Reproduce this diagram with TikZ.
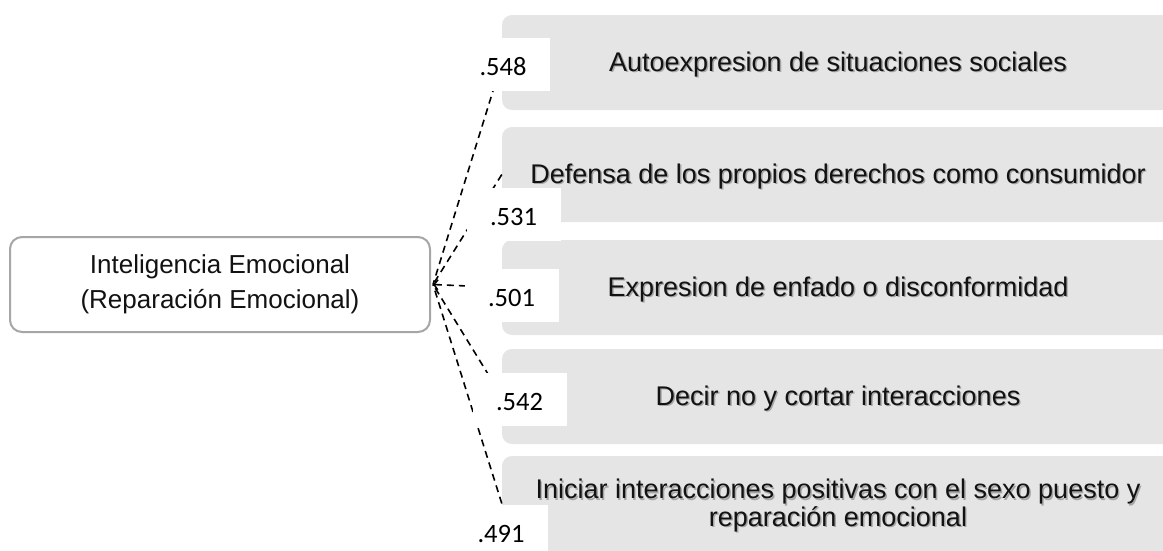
\documentclass[tikz,border=0pt]{standalone}
\usepackage{fontspec}
\setmainfont{Liberation Sans}
\newfontfamily\carlito{Carlito}
\usetikzlibrary{arrows.meta}
\definecolor{boxgray}{HTML}{E5E5E5}
\definecolor{rimgray}{HTML}{A6A6A6}
\definecolor{inktext}{HTML}{121212}
\newcommand\itemrow[3]{%
  \node[itembox] (#1) at (838,#2) {};
  \node[itemshadow] (#1s) at ([shift={(1.4,3.4)}]#1.center) {#3};
  \node[itemtext] (#1t) at ([shift={(0,2)}]#1.center) {#3};
}
\begin{document}
\begin{tikzpicture}[x=1pt,y=-1pt,
  itembox/.style={fill=boxgray, draw=none, rounded corners=10pt, minimum width=672pt, minimum height=95pt, inner sep=0pt},
  itemtext/.style={text=inktext, align=center, font=\fontsize{27}{27.5}\selectfont, inner sep=0pt},
  itemshadow/.style={text=black, opacity=0.28, align=center, font=\fontsize{27}{27.5}\selectfont, inner sep=0pt},
  centralbox/.style={draw=rimgray, line width=2pt, fill=white, rounded corners=12pt, minimum width=420pt, minimum height=95pt, align=center, font=\fontsize{26}{35}\selectfont, text=inktext},
  lbl/.style={fill=white, draw=none, minimum width=94pt, minimum height=53pt, inner sep=0pt, font=\carlito\fontsize{26.5}{30}\selectfont, text height=22pt, text depth=0pt},
  conn/.style={draw=black, line width=1.6pt, dash pattern=on 7pt off 5pt}
]
\useasboundingbox (0,0) rectangle (1163,550);
\clip (0,0) rectangle (1163,550);

% central node
\node[centralbox] (ie) at (220,284.5) {Inteligencia Emocional\\(Reparación Emocional)};
\coordinate (tip) at ([xshift=2pt]ie.east);

% item boxes
\itemrow{b1}{62.5}{Autoexpresion de situaciones sociales}
\itemrow{b2}{174.5}{Defensa de los propios derechos como consumidor}
\itemrow{b3}{287.5}{Expresion de enfado o disconformidad}
\itemrow{b4}{396.5}{Decir no y cortar interacciones}
\itemrow{b5}{503.5}{Iniciar interacciones positivas con el sexo puesto y\\reparación emocional}

% connectors
\draw[conn] (b1.west) -- (tip);
\draw[conn] (b2.west) -- (tip);
\draw[conn, -{Straight Barb[length=4pt,width=10pt,line width=1.5pt]}] (b3.west) -- (tip);
\draw[conn] (b4.west) -- (tip);
\draw[conn] (b5.west) -- (tip);

% loading labels
\node[lbl] (l1) at (503,64.5) {.548};
\node[lbl] (l2) at (513.5,214.5) {.531};
\node[lbl] (l3) at (511.5,295.5) {.501};
\node[lbl] (l4) at (519.5,399.5) {.542};
\node[lbl] (l5) at (501,531) {.491};
\end{tikzpicture}
\end{document}
